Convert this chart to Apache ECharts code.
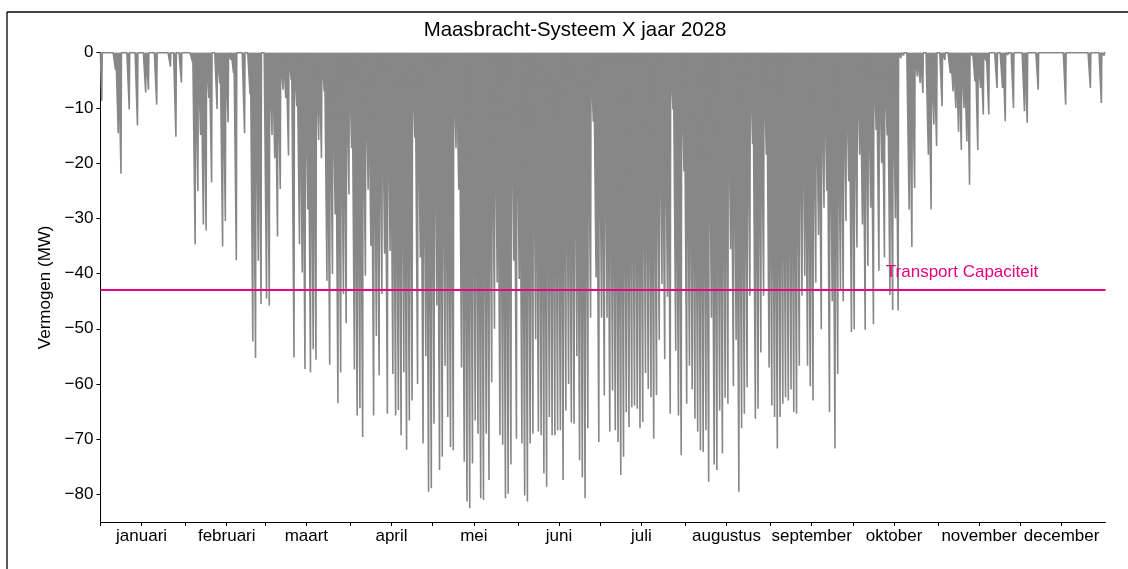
<!DOCTYPE html>
<html>
<head>
<meta charset="utf-8">
<script src="https://cdn.jsdelivr.net/npm/echarts@6/dist/echarts.min.js"></script>
<style>
html,body{margin:0;padding:0;background:#fff;}
#chart{width:1128px;height:569px;}
</style>
</head>
<body>
<div id="chart"></div>
<script>
// ---- data ----
const title = 'Maasbracht-Systeem X jaar 2028';
const yAxisName = 'Vermogen (MW)';
const monthNames = ['januari','februari','maart','april','mei','juni','juli','augustus','september','oktober','november','december'];
const monthStartDay = [0,31,60,91,121,152,182,213,244,274,305,335];
const monthLabelDay = [15,46,75,106,136,167,197,228,259,289,320,350];
const daysInYear = 366;
const yTicks = [-80,-70,-60,-50,-40,-30,-20,-10,0];
const transportCapacity = -43;
const capacityLabel = 'Transport Capaciteit';
const capacityLabelDay = 286;

// daily peak (MW), one value per day of 2028
const dailyPeak = [
 -8.7,0,0,0,0,-3.1,-14.6,-21.9,0,0, -10.3,0,0,-13.2,0,0,-7.2,-6.7,0,0,
 -9.4,0,0,0,0,-2.5,0,-15.2,0,-5.4, 0,0,0,-1.6,-34.7,-25.1,-14.9,-31.1,-32.2,-8.2,
 -23.5,0,-10.2,-5.5,-35.1,-30.5,-12.6,-1.3,-3.7,-37.6, 0,0,-14.6,0,-7.5,-52.3,-55.3,-37.7,-45.5,0,
 -44.5,-45.8,-14.9,-19.1,-33.3,-24.7,-6.7,-8.2,-18.6,-5, -55.2,-9.7,-34.7,-39.8,-57.3,-28.4,-57.9,-53.7,-55.6,-15.8,
 -19.1,-7,-41.3,-56.5,-40.1,-29.3,-63.5,-57.9,-43.7,-49, -25.7,-17.3,-57.4,-65.7,-64.4,-69.6,-40.4,-24.8,-35,-65.7,
 -51.3,-58.4,-43.7,-36.4,-65.4,-35.9,-58.2,-65.7,-64.7,-69.3, -57.9,-71.9,-66.6,-63,-15.4,-60,-37.1,-70.8,-55,-79.5,
 -78.9,-67.2,-45.8,-75.6,-73.2,-56.7,-66,-71.4,-72,-17.3, -24.8,-57,-74.1,-81.3,-82.5,-74.4,-66.6,-69,-80.7,-81,
 -69,-77.4,-59.7,-50,-41.6,-69.3,-71,-80.7,-79.9,-74.6, -37.7,-69.9,-41,-70.8,-80.2,-81.3,-70.8,-69,-51.9,-68.6,
 -69.3,-76.2,-78.6,-66,-69.3,-69.3,-68.4,-68.4,-77.4,-64.8, -60,-67,-67.2,-55,-73.8,-76.9,-80.7,-68,-48,-12.5,
 -40.7,-70.5,-48,-62.1,-48,-68.6,-61.2,-68.4,-70.5,-76.5, -73.2,-65.1,-67.8,-64.2,-63.9,-64.5,-68,-66.9,-58,-60.9,
 -62.4,-69.9,-62,-52,-41.9,-55.5,-44.2,-65.4,-10.3,-54, -65.7,-72.9,-21.5,-63.6,-56.7,-61,-66.3,-68.6,-72,-72.3,
 -68.4,-77.7,-48,-74.6,-75.6,-64.8,-72.6,-62.5,-63.6,-35.6, -60.4,-52,-79.5,-68,-65.4,-60.6,-44,-16.6,-66.3,-64.5,
 -54.3,-44,-18.5,-57,-63.9,-66,-71.7,-66,-63.6,-62.4, -63,-61,-65.1,-65.4,-56.7,-44,-40.4,-56.7,-60.4,-63,
 -41.6,-33,-50.1,-28.1,-25,-65.1,-45,-71.7,-58.2,-43.1, -45,-30.5,-23.3,-50.6,-50.1,-35.3,-18.5,-31.1,-50.2,-38.6,
 -28.1,-49.2,-14,-39.5,-20,-37.1,-15,-43.9,-46.6,-30, -46.7,-1,-0.5,0,-28.4,-35.2,-24.5,-4.3,-5.5,-7.3,
 0,-18.5,-28.4,-13,-16.9,0,-9.7,-1.3,0,-3.7, -7,-10,-14.3,-17.6,-10,-16.1,-23.9,-0.5,-5.2,-17.6,
 -6.4,-11.2,-1.5,-11.2,0,0,-6.4,0,-6.4,-12.4, -0.4,0,-10,0,0,0,-10.6,-12.7,0,0,
 0,-6.7,0,0,0,0,0,0,0,0, 0,-9.4,0,0,0,0,0,0,0,0,
 -6.4,0,0,0,-9.1,-0.5
];

// ---- build series (each day: zero at night, peak at midday) ----
const lineData = [[0,0]];
dailyPeak.forEach((v, d) => {
  lineData.push([d + 0.35, 0]);
  lineData.push([d + 0.5, v]);
  lineData.push([d + 0.65, 0]);
});
lineData.push([daysInYear, 0]);

const FONT = "'Liberation Sans', Arial, 'DejaVu Sans', sans-serif";
const fmtNum = v => (v < 0 ? '\u2212' + Math.abs(v) : String(v));

const chart = echarts.init(document.getElementById('chart'), null, {renderer: 'canvas'});
const option = {
  animation: false,
  backgroundColor: '#ffffff',
  grid: {left: 100.4, right: 22.5, top: 52.7, bottom: 47, containLabel: false},
  xAxis: {
    type: 'value', min: 0, max: daysInYear,
    axisLine: {show: true, onZero: false, lineStyle: {color: '#000', width: 1}},
    axisTick: {show: true, length: 4, lineStyle: {color: '#000'},
      customValues: monthStartDay.concat(monthLabelDay).sort((a,b)=>a-b)},
    axisLabel: {show: true, customValues: monthLabelDay, margin: 6,
      formatter: v => monthNames[monthLabelDay.indexOf(v)] || '',
      color: '#000', fontSize: 17, fontFamily: FONT},
    splitLine: {show: false}
  },
  yAxis: {
    type: 'value', min: -85, max: 0,
    name: yAxisName, nameLocation: 'middle', nameRotate: 90, nameGap: 39,
    nameTextStyle: {color: '#000', fontSize: 17, fontFamily: FONT},
    axisLine: {show: true, lineStyle: {color: '#000', width: 1}},
    axisTick: {show: true, length: 4, lineStyle: {color: '#000'}, customValues: yTicks},
    axisLabel: {show: true, customValues: yTicks, margin: 7, formatter: fmtNum,
      color: '#000', fontSize: 17, fontFamily: FONT},
    splitLine: {show: false}
  },
  series: [
    {
      type: 'line', data: lineData, showSymbol: false, symbol: 'none',
      lineStyle: {color: '#878787', width: 1.6},
      areaStyle: {color: '#878787', opacity: 1, origin: 'end'},
      z: 2, silent: true
    },
    {
      type: 'line', data: [[0, transportCapacity], [daysInYear, transportCapacity]],
      showSymbol: false, symbol: 'none',
      lineStyle: {color: '#e6007e', width: 2}, z: 3, silent: true
    }
  ]
};
chart.setOption(option);

const capPos = chart.convertToPixel({gridIndex: 0}, [capacityLabelDay, transportCapacity]);
chart.setOption({
  graphic: [
    {type: 'line', shape: {x1: 7, y1: 12, x2: 1128, y2: 12}, style: {stroke: '#000', lineWidth: 1.3}, silent: true},
    {type: 'line', shape: {x1: 7, y1: 12, x2: 7, y2: 569}, style: {stroke: '#000', lineWidth: 1.3}, silent: true},
    {type: 'text', x: 575, y: 30, z: 100,
      style: {text: title, fill: '#000', font: '20.4px ' + FONT, textAlign: 'center', textVerticalAlign: 'middle'}},
    {type: 'text', x: capPos[0], y: capPos[1] - 18, z: 100,
      style: {text: capacityLabel, fill: '#e6007e', font: '17px ' + FONT, textAlign: 'left', textVerticalAlign: 'middle'}}
  ]
});
</script>
</body>
</html>
